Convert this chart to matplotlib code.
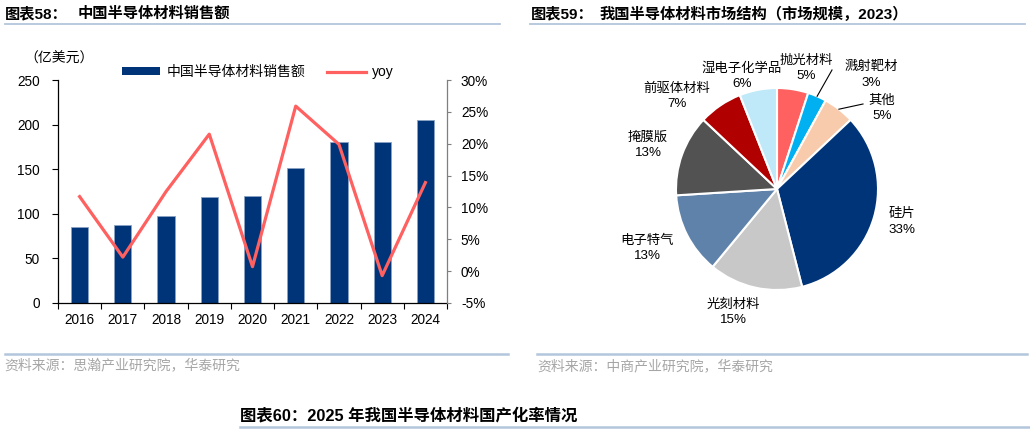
import matplotlib
matplotlib.use('Agg')
import matplotlib.pyplot as plt
import numpy as np
from matplotlib.patches import Patch
from matplotlib.lines import Line2D
from matplotlib.ticker import FuncFormatter

plt.rcParams['font.family'] = ['Liberation Sans', 'Noto Sans CJK SC']

# ---------------- data ----------------
years = ['2016', '2017', '2018', '2019', '2020', '2021', '2022', '2023', '2024']
sales = [85, 87, 98, 119, 120, 151, 181, 180, 205]          # 亿美元
yoy = [11.7, 2.2, 12.5, 21.5, 0.7, 25.9, 19.9, -0.7, 13.9]   # %

pie_labels = ['抛光材料', '溅射靶材', '其他', '硅片', '光刻材料',
              '电子特气', '掩膜版', '前驱体材料', '湿电子化学品']
pie_values = [5, 3, 5, 33, 15, 13, 13, 7, 6]
pie_colors = ['#ff6161', '#00b0f0', '#f8cbad', '#003478', '#c8c8c8',
              '#5f82aa', '#525252', '#b00000', '#bfe9f8']

W, H = 1030, 433
fig = plt.figure(figsize=(W / 100, H / 100), dpi=100)


def fx(px):
    return px / W


def fy(py):
    return 1 - py / H


NAVY = '#003478'
RED = '#ff6060'
LINEC = '#b3c6dc'

# ---------------- left chart ----------------
ax = fig.add_axes([fx(58), fy(303), fx(447) - fx(58), fy(80) - fy(303)])
x = np.arange(len(years))
ax.bar(x, sales, width=0.4, color=NAVY, edgecolor='#8aa3c4', linewidth=0.6, zorder=2)
ax.set_xlim(-0.5, len(years) - 0.5)
ax.set_ylim(0, 250)
ax.set_yticks(range(0, 251, 50))
ax.set_xticks(x)
ax.set_xticklabels(years)
ax.set_xticks(np.arange(-0.5, len(years), 1), minor=True)
ax.tick_params(axis='x', which='major', length=0, pad=7, labelsize=9.8)
ax.tick_params(axis='x', which='minor', length=4, width=0.8, direction='out')
ax.tick_params(axis='y', length=4, width=0.8, pad=9, labelsize=9.8)
for s in ['top', 'right']:
    ax.spines[s].set_visible(False)
ax.spines['left'].set_linewidth(0.9)
ax.spines['bottom'].set_linewidth(0.9)

ax2 = ax.twinx()
ax2.plot(x, [v / 100 for v in yoy], color=RED, lw=2.3, zorder=3)
ax2.set_ylim(-0.05, 0.30)
ax2.set_yticks(np.arange(-0.05, 0.301, 0.05))
ax2.yaxis.set_major_formatter(FuncFormatter(lambda v, p: f'{v * 100:.0f}%'))
ax2.tick_params(axis='y', length=3, width=0.8, pad=7, labelsize=9.8, color='#7f7f7f')
for s in ['top', 'left', 'bottom']:
    ax2.spines[s].set_visible(False)
ax2.spines['right'].set_color('#7f7f7f')
ax2.spines['right'].set_linewidth(0.9)

fig.legend(handles=[Patch(facecolor=NAVY, label='中国半导体材料销售额'),
                    Line2D([], [], color=RED, lw=2.3, label='yoy')],
           loc='center left', bbox_to_anchor=(fx(122), fy(72)), ncol=2,
           frameon=False, fontsize=10, handlelength=2.75, handleheight=0.5,
           handletextpad=0.45, columnspacing=1.6, borderpad=0, borderaxespad=0)
fig.text(fx(24), fy(59), '（亿美元）', fontsize=10, va='center', ha='left')

# ---------------- right chart (pie) ----------------
R = 101
cx, cy = 777, 189
pax = fig.add_axes([fx(cx - 250), fy(cy + 150), 500 / W, 300 / H])
wedges, _ = pax.pie(pie_values, colors=pie_colors, startangle=90, counterclock=False,
                    radius=1.0, wedgeprops=dict(edgecolor='white', linewidth=1.5))
pax.set_aspect('auto')
pax.set_xlim(-250 / R, 250 / R)
pax.set_ylim(-150 / R, 150 / R)
pax.axis('off')

# label centres (pixels)
label_pos = [(806, 68), (871, 75), (882, 108), (902, 222), (733, 312),
             (647, 248), (648, 145), (677, 96), (742, 76)]
for lab, val, (px, py) in zip(pie_labels, pie_values, label_pos):
    pax.text((px - cx) / R, (cy - py) / R, f'{lab}\n{val}%', ha='center', va='center',
             fontsize=9.6, linespacing=1.35)

# leader lines for small wedges
leader_ends = {1: (832, 70), 2: (863, 104)}
cum = np.cumsum([0] + pie_values)
total = sum(pie_values)
for i, (ex, ey) in leader_ends.items():
    mid = 90 - 360 * (cum[i] + pie_values[i] / 2) / total
    sx, sy = np.cos(np.radians(mid)), np.sin(np.radians(mid))
    pax.plot([sx, (ex - cx) / R], [sy, (cy - ey) / R], color='black', lw=0.8)

# ---------------- titles, rules, sources ----------------
fig.text(fx(5), fy(14), '图表58：', fontsize=11, fontweight='bold', va='center')
fig.text(fx(78), fy(14), '中国半导体材料销售额', fontsize=11, fontweight='bold', va='center')
fig.text(fx(531), fy(14), '图表59：', fontsize=11, fontweight='bold', va='center')
fig.text(fx(600), fy(14), '我国半导体材料市场结构（市场规模，2023）', fontsize=11,
         fontweight='bold', va='center')
fig.text(fx(240), fy(416), '图表60：2025 年我国半导体材料国产化率情况', fontsize=11.8,
         fontweight='bold', va='center')

for (x0, x1, yy, lw) in [(5, 500, 24, 1.3), (530, 1025, 24, 1.3),
                         (5, 508, 354, 1.8), (537, 1027, 354, 1.8),
                         (240, 1030, 427, 1.8)]:
    fig.add_artist(Line2D([fx(x0), fx(x1)], [fy(yy), fy(yy)], color=LINEC, lw=lw))

fig.text(fx(4), fy(366), '资料来源：思瀚产业研究院，华泰研究', fontsize=10, color='#a6a6a6',
         va='center')
fig.text(fx(537), fy(366), '资料来源：中商产业研究院，华泰研究', fontsize=10, color='#a6a6a6',
         va='center')

fig.savefig('out.png', dpi=100)
